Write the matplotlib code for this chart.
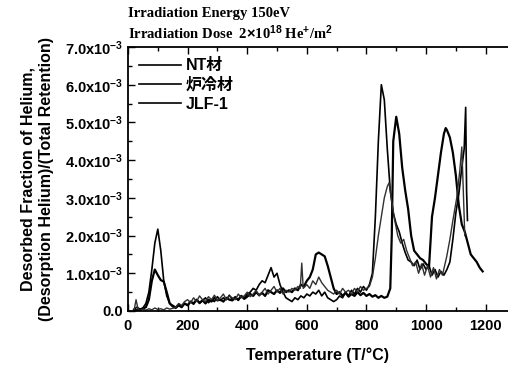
import numpy as np
import matplotlib
matplotlib.use('Agg')
import matplotlib.pyplot as plt
from matplotlib.ticker import MultipleLocator, FuncFormatter

plt.rcParams['font.family'] = ['Liberation Sans', 'Noto Sans CJK JP', 'DejaVu Sans']
plt.rcParams['font.weight'] = 'bold'
plt.rcParams['mathtext.fontset'] = 'custom'
plt.rcParams['mathtext.bf'] = 'Liberation Sans:bold'
plt.rcParams['mathtext.rm'] = 'Liberation Sans:bold'
plt.rcParams['mathtext.default'] = 'bf'

# desorption spectra, fraction in units of 1e-3
t_nt = [20, 30, 40, 50, 60, 70, 80, 90, 100, 110, 120, 130, 140, 150, 160, 170, 180, 190,
        200, 210, 220, 230, 240, 250, 260, 270, 280, 290, 300, 310, 320, 330, 340, 350,
        360, 370, 380, 390, 400, 410, 420, 430, 440, 450, 460, 470, 480, 490, 500, 510,
        520, 530, 540, 550, 560, 570, 580, 590, 600, 610, 620, 630, 640, 650, 660, 670,
        680, 690, 700, 710, 720, 730, 740, 750, 760, 770, 780, 790, 800, 810, 820, 830,
        840, 850, 860, 870, 880, 890, 900, 910, 920, 930, 940, 950, 960, 970, 980, 990,
        1000, 1010, 1020, 1030, 1040, 1050, 1060, 1070, 1080, 1090, 1100, 1110, 1120,
        1128, 1133, 1136, 1139]
v_nt = [0.05, 0.1, 0.05, 0.08, 0.2, 0.5, 1.1, 1.8, 2.17, 1.6, 0.8, 0.4, 0.2, 0.15, 0.1, 0.18,
        0.12, 0.2, 0.15, 0.25, 0.18, 0.3, 0.2, 0.28, 0.35, 0.22, 0.3, 0.25, 0.38, 0.28, 0.35,
        0.3, 0.42, 0.3, 0.38, 0.28, 0.4, 0.35, 0.45, 0.5, 0.6, 0.55, 0.7, 0.8, 0.75, 0.95,
        1.15, 0.9, 1.0, 0.7, 0.5, 0.35, 0.3, 0.25, 0.35, 0.3, 0.4, 0.35, 0.45, 0.4, 0.5,
        0.45, 0.55, 0.4, 0.5, 0.35, 0.3, 0.25, 0.3, 0.4, 0.35, 0.5, 0.4, 0.55, 0.45, 0.6,
        0.5, 0.65, 0.55, 0.7, 1.0, 2.5, 4.5, 6.0, 5.6, 4.3, 3.2, 2.6, 2.3, 2.1, 1.8, 1.55,
        1.35, 1.3, 1.2, 1.35, 1.1, 1.25, 1.1, 1.2, 0.95, 1.1, 0.9, 1.05, 0.95, 1.1, 1.3,
        1.9, 2.6, 3.1, 3.8, 4.3, 5.4, 3.2, 2.4]

t_fc = [20, 40, 60, 70, 80, 90, 100, 110, 120, 130, 140, 150, 160, 170, 180, 190, 200, 210,
        220, 230, 240, 250, 260, 270, 280, 290, 300, 310, 320, 330, 340, 350, 360, 370,
        380, 390, 400, 410, 420, 430, 440, 450, 460, 470, 480, 490, 500, 510, 520, 530,
        540, 550, 560, 570, 580, 590, 600, 610, 620, 630, 640, 650, 660, 670, 680, 690,
        700, 710, 720, 730, 740, 750, 760, 770, 780, 790, 800, 810, 820, 830, 840, 850,
        860, 870, 880, 885, 890, 900, 910, 920, 930, 940, 950, 960, 970, 980, 990, 1000,
        1010, 1020, 1030, 1040, 1050, 1060, 1066, 1070, 1080, 1090, 1100, 1110, 1120,
        1130, 1140, 1150, 1160, 1170, 1180, 1190]
v_fc = [0.02, 0.03, 0.1, 0.3, 0.8, 1.1, 0.95, 0.82, 0.78, 0.5, 0.2, 0.12, 0.08, 0.15, 0.1,
        0.2, 0.15, 0.25, 0.2, 0.3, 0.22, 0.28, 0.2, 0.3, 0.25, 0.35, 0.28, 0.3, 0.25, 0.35,
        0.3, 0.28, 0.35, 0.3, 0.4, 0.32, 0.38, 0.45, 0.4, 0.5, 0.42, 0.48, 0.4, 0.55, 0.5,
        0.45, 0.55, 0.48, 0.6, 0.5, 0.55, 0.5, 0.6, 0.55, 0.7, 0.65, 0.8, 0.9, 1.1, 1.5,
        1.55, 1.5, 1.45, 1.2, 0.9, 0.6, 0.45, 0.5, 0.4, 0.48, 0.38, 0.45, 0.4, 0.5, 0.42,
        0.48, 0.4, 0.45, 0.38, 0.42, 0.35, 0.4, 0.35, 0.38, 0.6, 2.0, 4.5, 5.15, 4.7, 3.8,
        3.2, 2.7, 2.0, 1.6, 1.5, 1.4, 1.35, 1.25, 1.17, 2.5, 3.0, 3.6, 4.2, 4.7, 4.85,
        4.8, 4.6, 4.2, 3.6, 2.8, 2.3, 2.1, 1.8, 1.5, 1.4, 1.3, 1.15, 1.05]

t_jlf = [20, 27, 35, 50, 60, 70, 80, 90, 100, 110, 120, 130, 140, 150, 160, 170, 180, 190,
         200, 210, 220, 230, 240, 250, 260, 270, 280, 290, 300, 310, 320, 330, 340, 350,
         360, 370, 380, 390, 400, 410, 420, 430, 440, 450, 460, 470, 480, 490, 500, 510,
         520, 530, 540, 550, 560, 570, 578, 583, 588, 600, 610, 620, 630, 640, 650, 660,
         670, 680, 690, 700, 710, 720, 730, 740, 750, 760, 770, 780, 790, 800, 810, 820,
         830, 840, 850, 860, 870, 876, 885, 895, 905, 915, 925, 935, 945, 955, 965, 975,
         985, 995, 1005, 1015, 1025, 1035, 1045, 1055, 1069, 1080, 1090, 1103, 1113, 1120,
         1125, 1130]
v_jlf = [0.0, 0.3, 0.0, 0.05, 0.02, 0.06, 0.03, 0.08, 0.04, 0.06, 0.03, 0.08, 0.05, 0.07,
         0.1, 0.2, 0.15, 0.25, 0.3, 0.22, 0.35, 0.25, 0.4, 0.3, 0.25, 0.38, 0.3, 0.42, 0.28,
         0.35, 0.45, 0.3, 0.4, 0.35, 0.3, 0.45, 0.35, 0.4, 0.5, 0.38, 0.45, 0.55, 0.4, 0.5,
         0.6, 0.45, 0.55, 0.65, 0.5, 0.6, 0.45, 0.55, 0.5, 0.6, 0.55, 0.65, 0.6, 1.27, 0.6,
         0.7, 0.6, 0.8, 0.7, 0.9, 0.75, 0.65, 0.55, 0.5, 0.45, 0.55, 0.45, 0.6, 0.5, 0.55,
         0.45, 0.6, 0.5, 0.65, 0.55, 0.6, 0.65, 0.9, 1.4, 2.0, 2.5, 3.0, 3.3, 3.4, 2.9, 2.4,
         2.0, 1.8, 1.9, 1.6, 1.4, 1.2, 1.3, 1.0, 1.25, 0.95, 1.2, 0.9, 1.15, 0.85, 1.1,
         0.95, 1.43, 1.9, 2.4, 3.0, 3.7, 4.35, 3.2, 2.0]

labels = ['NT材', '炉冷材', 'JLF-1']
x_ticks = [0, 200, 400, 600, 800, 1000, 1200]

fig = plt.figure(figsize=(5.08, 3.67), dpi=100)
ax = fig.add_axes([128 / 508, 1 - 311 / 367, 1 - 128 / 508, (311 - 47) / 367])

ax.plot(t_nt, np.array(v_nt) * 1e-3, color='black', lw=1.2, label=labels[0])
ax.plot(t_fc, np.array(v_fc) * 1e-3, color='black', lw=1.6, label=labels[1])
ax.plot(t_jlf, np.array(v_jlf) * 1e-3, color='#303030', lw=1.0, label=labels[2])

ax.set_xlim(0, 1275)
ax.set_ylim(0, 7.0e-3)
ax.set_xticks(x_ticks)
ax.xaxis.set_minor_locator(MultipleLocator(100))
ax.yaxis.set_major_locator(MultipleLocator(1e-3))
ax.yaxis.set_minor_locator(MultipleLocator(0.5e-3))


def yfmt(v, pos):
    if abs(v) < 1e-9:
        return '0.0'
    return r'%.1fx10$^{-3}$' % (v * 1e3)


ax.yaxis.set_major_formatter(FuncFormatter(yfmt))
ax.tick_params(which='both', direction='in', top=True, right=False, labelsize=10.5, width=1.0)
ax.tick_params(which='major', length=5)
ax.tick_params(which='minor', length=3)
ax.tick_params(axis='x', which='major', pad=6)
for lab in ax.get_xticklabels() + ax.get_yticklabels():
    lab.set_fontweight('bold')
ax.spines['right'].set_visible(False)
for s in ['left', 'bottom', 'top']:
    ax.spines[s].set_linewidth(1.3)

ax.set_xlabel('Temperature (T/°C)', fontsize=11.5, fontweight='bold', labelpad=10)
ax.set_ylabel('Desorbed Fraction of Helium,\n(Desorption Helium)/(Total Retention)',
              fontsize=11.5, fontweight='bold', labelpad=8, linespacing=1.25)

fig.text(128 / 508, 1 - 13 / 367, 'Irradiation Energy 150eV', fontsize=10.5,
         fontweight='bold', family='Liberation Serif', va='center')
fig.text(128 / 508, 1 - 33 / 367,
         r'Irradiation Dose  2$\times$10$^{18}$ He$^{+}$/m$^{2}$', fontsize=10.5,
         fontweight='bold', family='Liberation Serif', va='center')

leg = ax.legend(loc='upper left', frameon=False, handlelength=2.6,
                handletextpad=0.3, labelspacing=0.25, borderaxespad=0.3,
                prop={'family': ['Liberation Sans', 'Noto Sans CJK JP'], 'weight': 'bold', 'size': 11.5})
for h in leg.get_lines():
    h.set_color('black')
    h.set_linewidth(1.2)

fig.savefig('out.png', dpi=100)
